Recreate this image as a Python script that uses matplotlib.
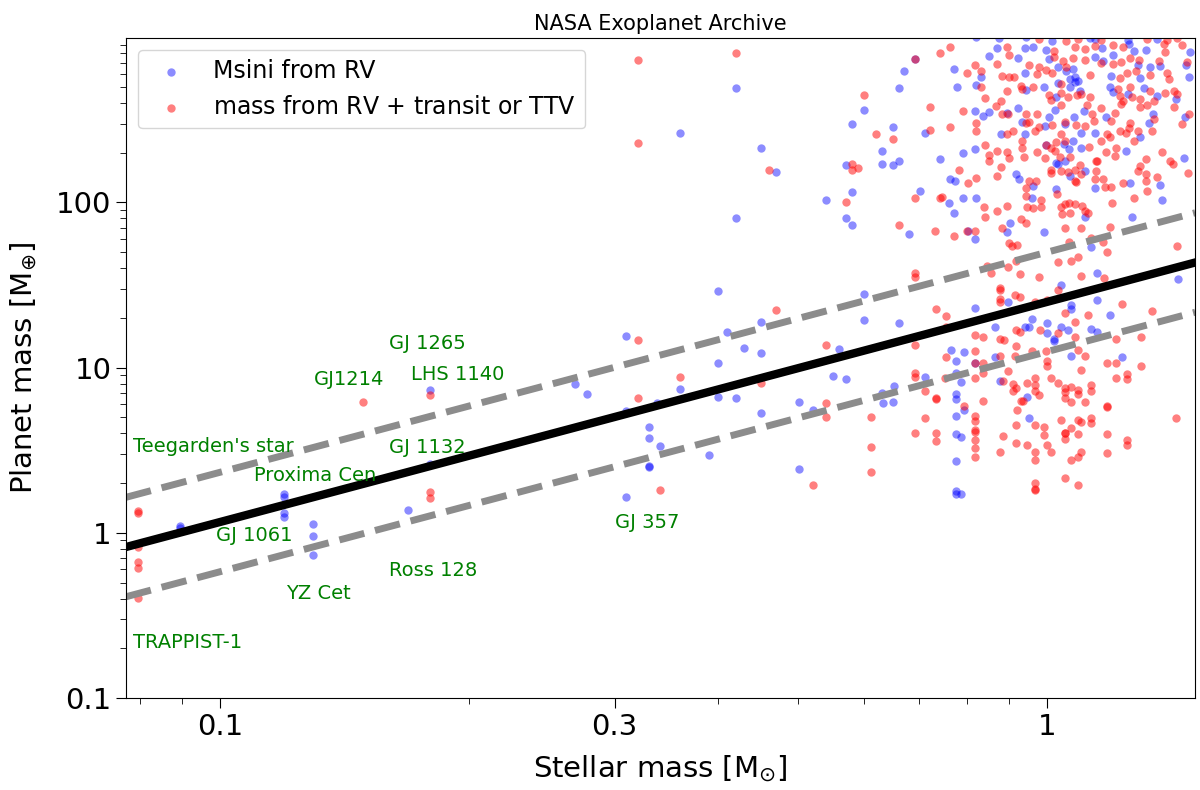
import matplotlib.pyplot as plt
import numpy as np
from matplotlib.ticker import NullFormatter

plt.rcParams['font.family'] = ['DejaVu Sans']
plt.rcParams['mathtext.fontset'] = 'dejavusans'

# planets with Msini from RV: (stellar mass [Msun], planet mass [Mearth])
rv_points = [
    (0.0895, 1.10), (0.0895, 1.07), (0.1195, 1.72), (0.1195, 1.65), (0.1195, 1.32),
    (0.1195, 1.25), (0.1296, 1.13), (0.1296, 0.96), (0.1296, 0.736), (0.169, 1.38),
    (0.1795, 7.36), (0.1795, 2.62),
    (0.360, 262), (0.400, 29.3), (0.310, 15.6), (0.410, 16.5), (0.451, 19.0), (0.269, 8.0),
    (0.278, 6.96), (0.360, 7.46), (0.400, 10.6), (0.430, 13.2), (0.451, 12.2), (0.560, 13.0),
    (0.551, 8.95), (0.571, 8.58), (0.400, 6.67), (0.421, 6.58), (0.310, 5.49), (0.338, 6.13),
    (0.330, 4.39), (0.330, 3.76), (0.340, 3.37), (0.390, 2.97), (0.330, 2.51), (0.330, 2.55),
    (0.310, 1.65), (0.451, 5.34), (0.501, 6.22), (0.521, 5.56), (0.501, 2.44),
    (0.421, 491), (0.451, 215), (0.470, 152), (0.421, 80), (0.601, 361), (0.581, 297),
    (0.651, 285), (0.631, 204), (0.571, 168), (0.631, 172), (0.651, 168), (0.662, 177),
    (0.672, 622), (0.662, 491), (0.692, 736), (0.712, 262), (0.742, 182), (0.541, 104),
    (0.581, 115), (0.571, 80), (0.581, 72.6), (0.681, 64), (0.702, 118), (0.803, 67),
    (0.601, 28.1), (0.601, 19.3), (0.662, 18.5), (0.817, 23.1), (0.866, 17.7), (0.897, 24.8),
    (1.04, 31.8), (1.07, 24.1), (1.07, 22.8), (1.15, 25.5), (1.19, 20.7), (1.0, 18.7),
    (0.958, 19.8), (0.95, 17.7), (0.94, 17.5), (1.0, 16.1), (1.02, 15.0), (1.02, 14.4),
    (1.06, 17.0), (1.04, 17.5), (1.13, 17.2), (1.15, 16.5), (1.15, 37.6), (1.44, 34.2),
    (0.866, 11.6), (1.07, 11.8), (1.23, 11.6), (0.765, 12.7), (0.775, 11.0), (0.794, 12.4),
    (0.817, 10.6), (0.775, 9.3), (0.786, 8.2), (0.712, 8.8), (0.775, 6.9), (0.775, 6.5),
    (0.653, 7.7), (0.632, 7.0), (0.633, 6.1), (0.651, 6.2), (0.794, 5.56), (0.775, 5.1),
    (0.775, 3.98), (0.786, 3.78), (0.775, 2.73), (0.775, 1.78), (0.786, 1.72), (0.775, 1.72),
    (0.877, 8.3), (0.946, 6.66), (0.95, 4.98),
    (0.82, 1000), (0.875, 986), (0.942, 1000), (1.015, 946), (1.127, 986), (1.143, 972),
    (1.251, 959), (1.257, 907), (1.359, 972), (0.87, 858), (0.94, 858), (0.961, 870),
    (0.998, 834), (1.165, 858), (1.275, 822), (1.315, 834), (1.488, 812), (0.851, 768),
    (0.922, 746), (1.004, 736), (1.143, 757), (1.168, 716), (1.20, 779), (1.286, 676),
    (1.333, 658), (1.37, 667), (1.472, 676), (1.032, 658), (1.075, 640), (0.771, 640),
    (0.833, 571), (0.94, 605), (1.055, 622), (1.081, 571), (1.067, 556), (1.09, 541),
    (1.194, 579), (1.296, 564), (1.484, 571), (0.779, 497), (0.82, 511), (0.942, 477),
    (0.99, 497), (1.032, 526), (1.067, 497), (1.081, 534), (1.096, 471), (1.026, 433),
    (1.191, 497), (1.20, 464), (1.251, 451), (1.311, 491), (1.359, 439), (1.431, 421),
    (0.819, 356), (0.836, 336), (0.851, 351), (0.894, 346), (0.922, 371), (1.004, 327),
    (1.023, 361), (1.078, 331), (1.109, 356), (1.178, 327), (1.344, 341), (1.468, 327),
    (0.88, 258), (0.932, 305), (0.94, 258), (0.993, 289), (1.052, 297), (1.099, 262),
    (1.143, 262), (1.296, 248), (1.326, 301), (1.075, 237), (0.998, 224), (0.792, 198),
    (0.819, 210), (1.049, 227), (1.026, 174), (1.064, 210), (1.099, 213), (1.244, 204),
    (1.464, 187), (0.763, 138), (0.773, 134), (0.917, 148), (0.924, 138), (0.961, 125),
    (1.032, 170), (1.052, 177), (1.067, 144), (1.112, 154), (1.143, 122), (1.26, 132),
    (1.37, 127), (0.76, 99.9), (0.792, 107), (0.82, 107), (0.771, 85.8), (0.958, 107),
    (1.026, 120), (1.112, 81.2), (1.268, 82), (1.377, 104), (0.902, 75.4), (0.894, 65.8),
    (0.819, 59.7), (0.99, 66.4), (1.13, 53.4),
]

# planets with mass from RV + transit or TTV
trans_points = [
    (0.0796, 1.36), (0.0796, 1.32), (0.0796, 0.82), (0.0796, 0.667), (0.0796, 0.614),
    (0.0796, 0.404), (0.149, 6.22), (0.1795, 6.86), (0.1795, 1.77), (0.1795, 1.63),
    (0.320, 726), (0.320, 228), (0.470, 22.2), (0.320, 14.6), (0.360, 8.82), (0.320, 6.58),
    (0.541, 13.8), (0.451, 8.1), (0.340, 1.82), (0.541, 6.13), (0.541, 5.05), (0.521, 1.95),
    (0.421, 800), (0.461, 158), (0.601, 445), (0.621, 258), (0.651, 241), (0.581, 172),
    (0.581, 158), (0.591, 161), (0.692, 736), (0.742, 800), (0.722, 376), (0.722, 273),
    (0.571, 101), (0.662, 72.6), (0.732, 66.7), (0.692, 106), (0.742, 107),
    (0.693, 37.6), (0.693, 35.6), (0.846, 41), (0.856, 37.6), (0.897, 40.4), (0.917, 44.5),
    (0.927, 37.1), (0.978, 35.6), (1.03, 43.3), (1.07, 44), (1.09, 47), (1.18, 49.8),
    (1.10, 36.1), (1.17, 35.1), (0.734, 22.5), (0.755, 20.4), (0.755, 17.7), (0.693, 13.8),
    (0.817, 15.8), (0.837, 15.4), (0.877, 30.5), (0.877, 29.6), (0.877, 26.2), (0.877, 25.0),
    (0.915, 27.7), (0.927, 26.9), (0.967, 25.0), (1.0, 25.8), (1.03, 29.6), (1.05, 21.5),
    (1.12, 20.9), (1.23, 24.4), (1.34, 22.0), (0.98, 16.8), (0.917, 16.8), (0.927, 16.5),
    (1.03, 16.1), (1.08, 19.0), (1.21, 14.8), (1.08, 15.4), (1.30, 15.4), (0.877, 15.0),
    (0.886, 14.6), (0.917, 13.6), (0.958, 12.6), (0.877, 11.8), (0.915, 11.8), (0.996, 12.6),
    (1.0, 11.0), (1.0, 10.3), (1.09, 12.7), (1.11, 11.8), (1.18, 10.6), (1.21, 10.6),
    (1.25, 9.2), (1.25, 8.5), (1.30, 10.3), (1.21, 8.6), (1.10, 9.7), (0.755, 11.6),
    (0.817, 12.6), (0.817, 10.6), (0.817, 8.7), (0.837, 10.6), (0.837, 9.3), (0.753, 8.6),
    (0.693, 9.3), (0.693, 8.8), (0.712, 7.26), (0.734, 6.58), (0.734, 6.5), (0.794, 5.88),
    (0.817, 5.1), (0.817, 4.78), (0.817, 4.2), (0.817, 4.1), (0.817, 3.66), (0.817, 3.27),
    (0.817, 2.89), (0.837, 6.3), (0.712, 4.98), (0.693, 4.04), (0.734, 4.04), (0.734, 3.58),
    (0.613, 5.05), (0.613, 3.32), (0.613, 2.33), (0.885, 8.35), (0.897, 9.6), (0.91, 7.95),
    (0.917, 7.55), (0.91, 7.25), (0.946, 8.1), (0.967, 8.6), (0.967, 7.8), (0.967, 7.25),
    (0.978, 6.8), (0.93, 6.3), (0.935, 6.3), (0.92, 5.56), (0.917, 4.48), (0.917, 3.5),
    (0.967, 4.48), (0.99, 4.4), (0.99, 3.9), (0.946, 3.41), (0.967, 3.1), (0.967, 2.77),
    (1.0, 3.41), (1.01, 3.1), (0.967, 1.99), (0.967, 1.84), (0.968, 1.82), (1.01, 8.6),
    (1.03, 8.1), (1.05, 7.55), (1.05, 7.15), (1.05, 6.58), (1.07, 7.66), (1.09, 7.3),
    (1.09, 6.96), (1.07, 6.2), (1.11, 6.2), (1.13, 7.8), (1.13, 7.25), (1.04, 4.84),
    (1.09, 4.84), (1.10, 4.7), (1.13, 4.98), (1.13, 4.64), (1.07, 4.33), (1.05, 4.04),
    (1.05, 4.0), (1.05, 3.71), (1.09, 3.98), (1.07, 2.77), (1.09, 2.89), (1.10, 3.1),
    (1.05, 2.14), (1.09, 1.96), (1.18, 5.88), (1.18, 5.8), (1.18, 3.98), (1.18, 3.05),
    (1.25, 3.66), (1.25, 3.38), (1.43, 4.93), (0.885, 3.84), (0.877, 3.07),
    (0.977, 972), (1.053, 946), (1.09, 972), (1.161, 959), (1.322, 972), (1.397, 959),
    (1.435, 986), (0.763, 870), (0.894, 870), (1.02, 822), (1.081, 870), (1.112, 846),
    (1.143, 882), (1.20, 894), (1.234, 870), (1.385, 907), (1.455, 894), (1.389, 812),
    (0.899, 779), (1.02, 757), (1.046, 716), (1.075, 746), (1.112, 726), (1.20, 686),
    (1.26, 746), (1.293, 726), (1.366, 716), (1.476, 706), (0.819, 676), (0.87, 686),
    (0.95, 676), (0.977, 658), (1.055, 658), (1.161, 696), (1.227, 706), (0.799, 605),
    (0.833, 622), (0.882, 579), (0.899, 571), (0.912, 571), (0.972, 597), (0.996, 631),
    (1.015, 605), (1.127, 588), (1.224, 564), (1.248, 605), (1.279, 622), (1.333, 588),
    (1.397, 605), (1.405, 556), (0.833, 497), (0.894, 471), (0.929, 504), (0.932, 484),
    (0.961, 497), (1.04, 519), (1.099, 451), (1.127, 433), (1.004, 445), (1.012, 415),
    (1.04, 458), (1.061, 433), (1.087, 445), (1.217, 484), (1.224, 440), (1.234, 409),
    (1.26, 497), (1.33, 471), (1.389, 458), (1.424, 471), (1.435, 451), (1.268, 433),
    (1.296, 421), (0.842, 427), (0.88, 409), (0.868, 381), (0.792, 356), (0.82, 301),
    (0.882, 341), (0.897, 341), (0.942, 341), (0.95, 305), (0.972, 341), (1.04, 387),
    (1.052, 309), (1.084, 293), (1.118, 387), (1.133, 341), (1.14, 313), (1.161, 371),
    (1.194, 313), (1.207, 346), (1.227, 392), (1.26, 301), (1.296, 376), (1.322, 387),
    (1.348, 409), (1.348, 318), (1.424, 376), (1.484, 341), (1.455, 297), (0.763, 285),
    (0.82, 269), (0.894, 258), (0.91, 269), (0.942, 301), (0.966, 269), (0.977, 285),
    (1.015, 293), (1.04, 258), (1.112, 289), (1.161, 234), (1.181, 258), (1.191, 248),
    (1.224, 269), (1.244, 265), (1.257, 281), (1.286, 269), (1.34, 269), (1.377, 201),
    (1.275, 234), (0.932, 234), (0.842, 224), (1.026, 231), (1.052, 234), (0.998, 224),
    (0.851, 195), (0.87, 204), (0.894, 201), (0.899, 185), (0.851, 177), (0.932, 215),
    (0.937, 189), (0.972, 201), (0.993, 187), (1.012, 215), (1.023, 206), (1.035, 189),
    (1.067, 189), (1.124, 218), (1.146, 177), (1.178, 201), (1.21, 215), (1.207, 192),
    (1.296, 166), (1.318, 182), (1.409, 177), (1.42, 170), (0.88, 163), (0.782, 158),
    (0.87, 144), (0.746, 108), (0.803, 132), (0.82, 140), (0.95, 134), (0.969, 134),
    (0.942, 122), (1.01, 158), (1.012, 150), (1.04, 154), (1.061, 152), (1.081, 158),
    (1.096, 168), (1.099, 148), (1.081, 134), (1.083, 133), (1.149, 177), (1.146, 154),
    (1.143, 138), (1.168, 138), (1.174, 124), (1.194, 124), (1.234, 132), (1.286, 154),
    (1.315, 148), (1.318, 134), (1.359, 142), (1.322, 117), (1.48, 150), (0.838, 93.3),
    (0.842, 81.2), (0.87, 88.2), (0.894, 94.6), (0.942, 109), (0.945, 93.3), (0.961, 92.0),
    (0.983, 93.3), (0.983, 104), (1.029, 112), (1.052, 97.4), (1.04, 93.3), (1.064, 98.8),
    (1.081, 97.4), (1.043, 84.6), (1.067, 85.8), (1.102, 94.6), (1.112, 88.2), (1.121, 85.8),
    (1.197, 98.8), (1.275, 106), (0.929, 78.9), (0.942, 75.4), (0.882, 70.3), (0.817, 67.2),
    (0.771, 62.5), (0.799, 67.2), (1.052, 70.3), (1.099, 70.3), (1.191, 71.0), (0.899, 56.9),
    (0.908, 54.2), (0.92, 55.0), (1.064, 57.6), (1.13, 60.5), (1.168, 57.6), (1.435, 54.2),
]

# reference line (solid) and factor-2 band (dashed), end points
line_mstar = [0.077, 1.51]
line_mp = [0.82, 43.3]
line_mp_hi = [1.64, 86.6]
line_mp_lo = [0.41, 21.65]

# annotated systems
star_names = ["Teegarden's star", "Proxima Cen", "GJ 1061", "YZ Cet", "TRAPPIST-1",
              "GJ1214", "GJ 1265", "LHS 1140", "GJ 1132", "Ross 128", "GJ 357"]
star_label_x = [0.0785, 0.1099, 0.0989, 0.1202, 0.0785,
                0.1299, 0.1601, 0.1702, 0.1601, 0.1601, 0.3003]
star_label_y = [3.33, 2.22, 0.96, 0.427, 0.216,
                8.46, 13.97, 9.07, 3.27, 0.588, 1.15]

rv = np.array(rv_points)
tr = np.array(trans_points)

fig = plt.figure(figsize=(12, 7.9), dpi=100)
ax = fig.add_axes([0.105, 0.1165, 0.891, 0.8354])

ax.scatter(rv[:, 0], rv[:, 1], s=36, c='blue', alpha=0.45, linewidths=0,
           label='Msini from RV')
ax.scatter(tr[:, 0], tr[:, 1], s=36, c='red', alpha=0.5, linewidths=0,
           label='mass from RV $+$ transit or TTV')

ax.plot(line_mstar, line_mp_hi, '--', color='0.55', lw=5)
ax.plot(line_mstar, line_mp_lo, '--', color='0.55', lw=5)
ax.plot(line_mstar, line_mp, '-', color='black', lw=6)

for name, x, y in zip(star_names, star_label_x, star_label_y):
    ax.text(x, y, name, color='green', fontsize=14, ha='left', va='center')

ax.set_xscale('log')
ax.set_yscale('log')
ax.set_xlim(0.077, 1.51)
ax.set_ylim(0.1, 990)

ax.set_xticks([0.1, 0.3, 1])
ax.set_xticklabels(['0.1', '0.3', '1'])
ax.set_yticks([0.1, 1, 10, 100])
ax.set_yticklabels(['0.1', '1', '10', '100'])
ax.xaxis.set_minor_formatter(NullFormatter())
ax.yaxis.set_minor_formatter(NullFormatter())
ax.tick_params(which='major', labelsize=21, length=7)
ax.tick_params(which='minor', length=4)

ax.set_xlabel(r'Stellar mass [M$_{\odot}$]', fontsize=21, labelpad=9)
ax.set_ylabel(r'Planet mass [M$_{\oplus}$]', fontsize=21, labelpad=12)
ax.set_title('NASA Exoplanet Archive', fontsize=15)
ax.legend(loc='upper left', fontsize=17, scatterpoints=1)

fig.savefig('out.png', dpi=100)
